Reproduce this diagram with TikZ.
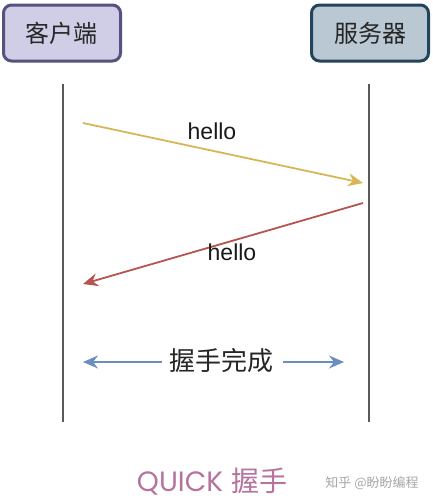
\documentclass[tikz,border=0pt]{standalone}
\usepackage{fontspec}
\setmainfont{Liberation Sans}
\newfontfamily\cjk{Noto Sans CJK SC}
\newfontfamily\titlefont{Poppins}
\usetikzlibrary{arrows.meta}
\definecolor{cliFill}{HTML}{D0CEE6}
\definecolor{cliLine}{HTML}{56517E}
\definecolor{srvFill}{HTML}{BAC8D3}
\definecolor{srvLine}{HTML}{23445D}
\definecolor{yel}{HTML}{D6B656}
\definecolor{redd}{HTML}{B85450}
\definecolor{blu}{HTML}{6C8EBF}
\definecolor{pinkish}{HTML}{B5739D}
\tikzset{
  actor/.style={draw, line width=3pt, rounded corners=8pt, minimum width=117pt, minimum height=56pt, font=\cjk\fontsize{24}{28}\selectfont, text=black!85},
  life/.style={draw=black!65, line width=1.4pt},
  msg/.style={line width=1.8pt, -{Stealth[length=15pt, width=13pt, inset=5pt]}},
  lbl/.style={font=\fontsize{23}{27}\selectfont, text=black!90}
}
\begin{document}
\begin{tikzpicture}[x=1pt,y=-1pt]
\useasboundingbox (0,0) rectangle (432,504);
\node[actor, fill=cliFill, draw=cliLine] (cli) at (62,33) {客户端};
\node[actor, fill=srvFill, draw=srvLine] (srv) at (370,33) {服务器};
\coordinate (lt) at (63,84); \coordinate (lb) at (63,422);
\coordinate (rt) at (369,84); \coordinate (rb) at (369,422);
\draw[life] (lt) -- (lb);
\draw[life] (rt) -- (rb);
\coordinate (a1s) at (83,123); \coordinate (a1e) at (363,183);
\coordinate (a2s) at (363,203); \coordinate (a2e) at (83,284);
\draw[msg, draw=yel, fill=yel] (a1s) -- (a1e);
\draw[msg, draw=redd, fill=redd] (a2s) -- (a2e);
\node[lbl] (h1) at (212,131) {hello};
\node[lbl] (h2) at (232,252) {hello};
\node[font=\cjk\fontsize{26}{30}\selectfont, text=black!85] (done) at (221,361) {握手完成};
\coordinate (dl) at (83,362); \coordinate (dr) at (344,362);
\draw[msg, draw=blu, fill=blu] (162,362) -- (dl);
\draw[msg, draw=blu, fill=blu] (283,362) -- (dr);
\node[text=pinkish, font=\fontsize{28}{32}\selectfont, inner sep=0pt] (title) at (212,482) {{\titlefont QUICK} {\cjk 握手}};
\node[text=black!35, font=\cjk\fontsize{13}{15}\selectfont, inner sep=0pt] (wm) at (372,483) {知乎 @盼盼编程};
\end{tikzpicture}
\end{document}
